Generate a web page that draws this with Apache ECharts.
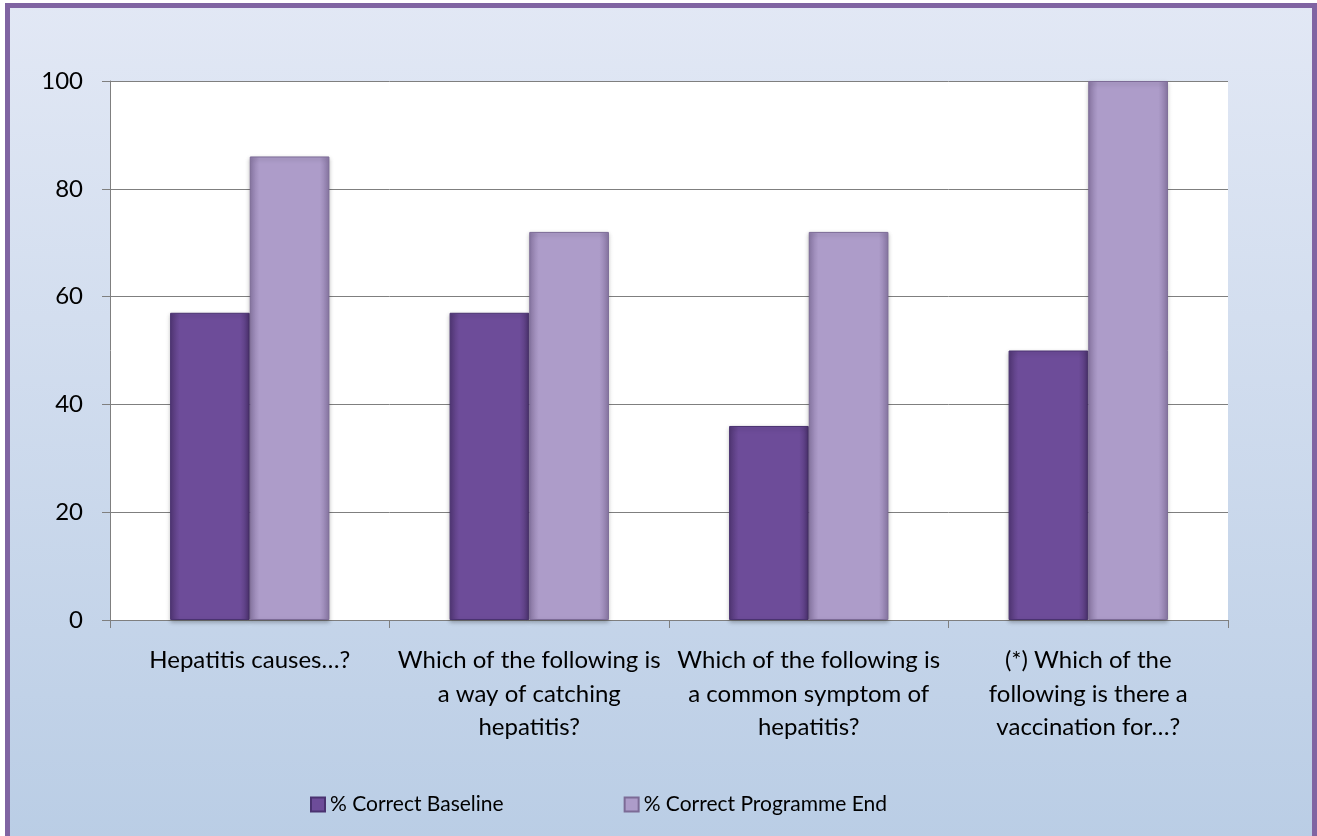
<!DOCTYPE html>
<html>
<head>
<meta charset="utf-8">
<script src="https://cdn.jsdelivr.net/npm/echarts@6/dist/echarts.min.js"></script>
<style>
  html, body { margin: 0; padding: 0; background: #fff; }
  #chart { width: 1317px; height: 836px; }
</style>
</head>
<body>
<div id="chart"></div>
<script>
// question labels (line breaks as in the original)
const questions = [
  "Hepatitis causes…?",
  "Which of the following is\na way of catching\nhepatitis?",
  "Which of the following is\na common symptom of\nhepatitis?",
  "(*) Which of the\nfollowing is there a\nvaccination for…?"
];
const seriesNames = ["% Correct Baseline", "% Correct Programme End"];
const baseline = [57, 57, 36, 50];
const programmeEnd = [86, 72, 72, 100];
const yTicks = { min: 0, max: 100, interval: 20 };

const font = "Lato, 'Open Sans', sans-serif";

/** horizontal gradient that fakes the bevelled bar look */
const bevel = (edge, mid) => ({
  type: "linear", x: 0, y: 0, x2: 1, y2: 0,
  colorStops: [
    { offset: 0, color: edge },
    { offset: 0.12, color: mid },
    { offset: 0.88, color: mid },
    { offset: 1, color: edge }
  ]
});

const chart = echarts.init(document.getElementById("chart"));
chart.setOption({
  animation: false,
  textStyle: { fontFamily: font, color: "#000" },
  graphic: [{
    type: "rect",
    z: -10,
    silent: true,
    shape: { x: 7.5, y: 5.5, width: 1307, height: 1000 },
    style: {
      fill: {
        type: "linear", x: 0, y: 0, x2: 0, y2: 1,
        colorStops: [
          { offset: 0, color: "#e2e8f5" },
          { offset: 1, color: "#b2c8e2" }
        ]
      },
      stroke: "#8064a2",
      lineWidth: 5
    }
  }],
  grid: {
    left: 110, right: 89, top: 81, bottom: 216,
    show: true, backgroundColor: "#fff", borderWidth: 0
  },
  legend: {
    left: 305, top: 789,
    itemWidth: 14, itemHeight: 14, itemGap: 120,
    icon: "rect",
    textStyle: { fontSize: 21, fontFamily: font, color: "#000" },
    data: seriesNames
  },
  xAxis: {
    type: "category",
    data: questions,
    axisLine: { lineStyle: { color: "#7f7f7f", width: 1 } },
    axisTick: { show: true, length: 8, lineStyle: { color: "#7f7f7f" } },
    axisLabel: {
      interval: 0, margin: 24,
      fontSize: 24, lineHeight: 33.5, color: "#000", fontFamily: font,
      align: "center"
    }
  },
  yAxis: {
    type: "value",
    min: yTicks.min, max: yTicks.max, interval: yTicks.interval,
    axisLine: { show: true, lineStyle: { color: "#7f7f7f", width: 1 } },
    axisTick: { show: true, length: 8, lineStyle: { color: "#7f7f7f" } },
    splitLine: { lineStyle: { color: "#7f7f7f", width: 1 } },
    axisLabel: { fontSize: 24, margin: 27, color: "#000", fontFamily: font }
  },
  series: [
    {
      name: seriesNames[0],
      type: "bar",
      data: baseline,
      barGap: "0%",
      barCategoryGap: "43%",
      itemStyle: {
        color: bevel("#523776", "#6d4c99"),
        borderColor: "#4a3270", borderWidth: 1,
        shadowColor: "rgba(0,0,0,0.25)", shadowBlur: 4, shadowOffsetY: 2
      }
    },
    {
      name: seriesNames[1],
      type: "bar",
      data: programmeEnd,
      itemStyle: {
        color: bevel("#8b79a6", "#ad9cc9"),
        borderColor: "#7c6b96", borderWidth: 1,
        shadowColor: "rgba(0,0,0,0.25)", shadowBlur: 4, shadowOffsetY: 2
      }
    }
  ]
});
</script>
</body>
</html>
